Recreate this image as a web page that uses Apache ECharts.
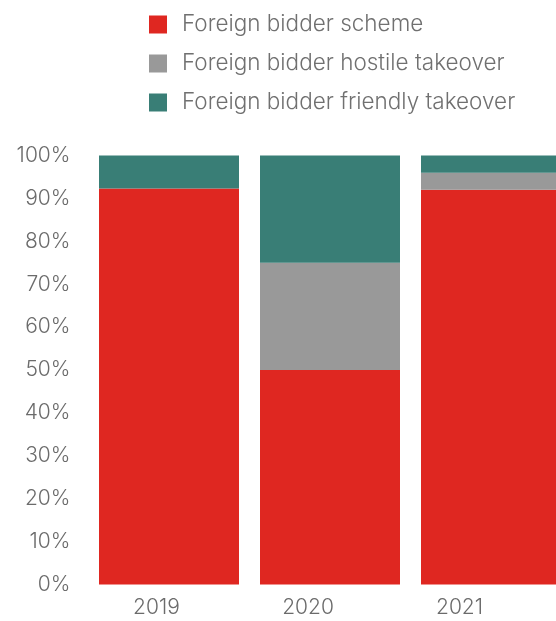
<!DOCTYPE html>
<html>
<head>
<meta charset="utf-8">
<script src="https://cdn.jsdelivr.net/npm/echarts@6/dist/echarts.min.js"></script>
<style>
  html, body { margin: 0; padding: 0; background: #fff; }
  #chart { width: 556px; height: 621px; }
</style>
</head>
<body>
<div id="chart"></div>
<script>
// Share of foreign-bidder deals by structure, per year (percent)
const years = ['2019', '2020', '2021'];
const schemeShare = [92.3, 50, 92];
const hostileShare = [0, 25, 4];
const friendlyShare = [7.7, 25, 4];
const seriesNames = [
  'Foreign bidder scheme',
  'Foreign bidder hostile takeover',
  'Foreign bidder friendly takeover'
];
const colors = ['#DF2721', '#999999', '#397E76'];

const textColor = '#6b6b6b';
const fontFamily = 'Inter, Roboto, sans-serif';

const chart = echarts.init(document.getElementById('chart'), null, { renderer: 'canvas' });

const barSeries = [schemeShare, hostileShare, friendlyShare].map((vals, i) => ({
  name: seriesNames[i],
  type: 'bar',
  stack: 'share',
  xAxisIndex: 0,
  yAxisIndex: 0,
  barWidth: 140,
  itemStyle: { color: colors[i] },
  data: vals
}));

chart.setOption({
  animation: false,
  color: colors,
  textStyle: { fontFamily: fontFamily },
  legend: {
    orient: 'vertical',
    left: 144,
    top: 8,
    itemWidth: 18,
    itemHeight: 18,
    itemGap: 16,
    icon: 'rect',
    textStyle: {
      color: '#707070',
      fontSize: 22.5,
      fontWeight: 300,
      lineHeight: 22,
      padding: [0, 0, 0, 10],
      fontFamily: fontFamily
    },
    data: seriesNames
  },
  grid: [
    // the last bar runs past the right edge of the canvas
    { left: 88.5, width: 483, top: 155.5, bottom: 36.5, outerBoundsMode: 'none', containLabel: false },
    { left: 80.75, width: 454.5, top: 155.5, bottom: 36.5, outerBoundsMode: 'none', containLabel: false }
  ],
  xAxis: [
    {
      type: 'category',
      gridIndex: 0,
      data: years,
      axisLine: { show: false },
      axisTick: { show: false },
      axisLabel: { show: false }
    },
    {
      type: 'category',
      gridIndex: 1,
      data: years,
      axisLine: { show: false },
      axisTick: { show: false },
      axisLabel: {
        color: textColor,
        fontSize: 21,
        fontWeight: 300,
        margin: 13,
        fontFamily: fontFamily
      }
    }
  ],
  yAxis: [
    {
      type: 'value',
      gridIndex: 0,
      min: 0,
      max: 100,
      interval: 10,
      axisLine: { show: false },
      axisTick: { show: false },
      splitLine: { show: false },
      axisLabel: {
        color: textColor,
        fontSize: 21,
        fontWeight: 300,
        margin: 18,
        formatter: '{value}%',
        fontFamily: fontFamily
      }
    },
    {
      type: 'value',
      gridIndex: 1,
      min: 0,
      max: 100,
      show: false
    }
  ],
  series: barSeries
});
</script>
</body>
</html>
